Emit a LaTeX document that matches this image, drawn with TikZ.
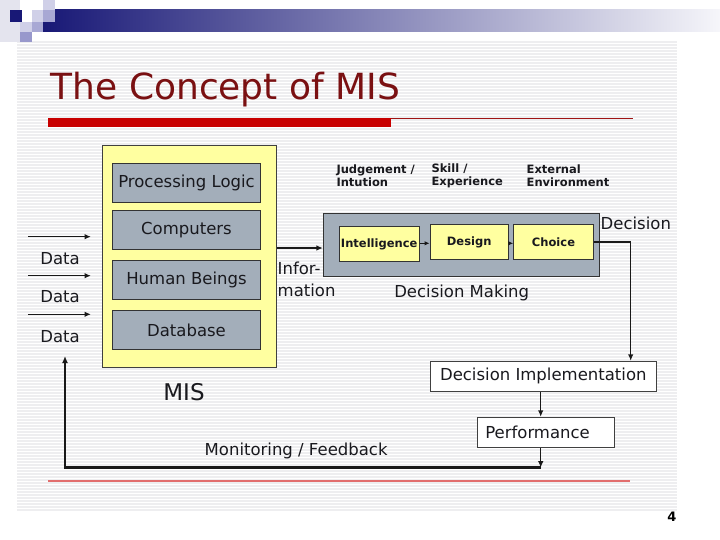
\documentclass[tikz,border=0pt]{standalone}
\usepackage{fontspec}
\setmainfont{DejaVu Sans}
\usetikzlibrary{arrows.meta}
\definecolor{navy}{RGB}{24,24,118}
\definecolor{titlered}{RGB}{122,16,18}
\definecolor{barred}{RGB}{200,0,0}
\definecolor{linered}{RGB}{160,20,20}
\definecolor{lowred}{RGB}{226,110,110}
\definecolor{stripe}{RGB}{238,238,240}
\definecolor{yel}{RGB}{255,255,160}
\definecolor{slate}{RGB}{163,174,186}
\definecolor{ink}{RGB}{25,25,30}
\definecolor{lav1}{RGB}{228,228,238}
\definecolor{lav2}{RGB}{208,208,232}
\definecolor{lav3}{RGB}{168,168,212}
\definecolor{lav4}{RGB}{152,152,204}
\tikzset{
  lbl/.style={font=\fontsize{16.5}{18}\selectfont, text=ink, inner sep=0pt},
  smallbold/.style={font=\bfseries\fontsize{11.5}{13.5}\selectfont, text=ink, inner sep=0pt, align=left},
  misbox/.style={draw=black!75, line width=0.9pt, fill=yel, inner sep=0pt},
  graybox/.style={draw=black!80, line width=0.9pt, fill=slate, inner sep=0pt, minimum width=148pt, minimum height=39pt, font=\fontsize{16.5}{18}\selectfont, text=ink},
  stepbox/.style={draw=black!80, line width=0.9pt, fill=yel, inner sep=0pt, minimum height=34.5pt, font=\bfseries\fontsize{11.5}{13}\selectfont, text=ink},
  whitebox/.style={draw=black!75, line width=0.9pt, fill=white, inner sep=0pt, minimum height=30pt, font=\fontsize{16.5}{18}\selectfont, text=ink},
  arr/.style={line width=1.5pt, draw=black!90, -{Latex[length=6.5pt,width=5.5pt]}},
  thickline/.style={line width=2.8pt, draw=black!90},
  thickarr/.style={line width=2.8pt, draw=black!90, -{Latex[length=7pt,width=6pt]}},
}
\begin{document}
\begin{tikzpicture}[x=1pt,y=-1pt]
\useasboundingbox (0,0) rectangle (720,540);
\fill[white] (0,0) rectangle (720,540);
% striped slide area
\foreach \yy in {42,45,...,510} \draw[stripe, line width=1.2pt] (17,\yy) -- (677,\yy);
% header gradient bar and squares
\shade[left color=navy, right color={rgb,255:red,246;green,246;blue,250}] (43,10) rectangle (720,32);
\fill[lav1] (0,0) rectangle (20,42);
\fill[navy] (10,10) rectangle (22,22);
\fill[white] (22,10) rectangle (32,22);
\fill[lav2] (32,10) rectangle (43,22);
\fill[lav2] (43,0) rectangle (55,10);
\fill[lav3] (43,10) rectangle (55,22);
\fill[lav2] (20,22) rectangle (32,32);
\fill[lav3] (32,22) rectangle (43,32);
\fill[lav4] (20,32) rectangle (32,42);
% title
\node[anchor=base west, inner sep=0pt, text=titlered, font=\fontsize{36}{40}\selectfont] (title) at (50.5,99.3) {The Concept of MIS};
\fill[barred] (48.3,118.3) rectangle (390.7,127.3);
\draw[linered, line width=1pt] (390.7,118.8) -- (633,118.8);
% MIS block
\node[misbox, minimum width=174.5pt, minimum height=221.7pt] (mis) at (189.5,256.8) {};
\node[graybox] (pl) at (186.5,182.8) {Processing Logic};
\node[graybox] (comp) at (186.5,230) {Computers};
\node[graybox] (hb) at (186.5,279.5) {Human Beings};
\node[graybox] (db) at (186.5,330) {Database};
\node[lbl, font=\fontsize{23}{26}\selectfont] (mislbl) at (184,392) {MIS};
% data inputs
\coordinate (d1s) at (28,236.7); \coordinate (d1e) at (91,236.7);
\coordinate (d2s) at (28,275.7); \coordinate (d2e) at (91,275.7);
\coordinate (d3s) at (28,314.3); \coordinate (d3e) at (91,314.3);
\draw[arr] (d1s) -- (d1e);
\draw[arr] (d2s) -- (d2e);
\draw[arr] (d3s) -- (d3e);
\node[lbl] (data1) at (60,258.5) {Data};
\node[lbl] (data2) at (60,297) {Data};
\node[lbl] (data3) at (60,336.5) {Data};
% decision making
\node[draw=black!80, line width=0.9pt, fill=slate, inner sep=0pt, minimum width=275.7pt, minimum height=62.7pt] (dm) at (461.2,245.3) {};
\node[stepbox, minimum width=79.7pt, minimum height=35pt] (int) at (379.2,244.2) {Intelligence};
\node[stepbox, minimum width=78.3pt] (des) at (469.2,242.2) {Design};
\node[stepbox, minimum width=79.6pt] (cho) at (553.5,242.2) {Choice};
\draw[arr, line width=1.1pt, -{Latex[length=5pt,width=4.5pt]}] (int.east |- 0,243.3) -- (des.west |- 0,243.3);
\draw[arr, line width=1.1pt, -{Latex[length=5pt,width=4.5pt]}] (des.east |- 0,243.3) -- (cho.west |- 0,243.3);
\node[smallbold, anchor=west] (jud) at (336.3,175.7) {Judgement /\\Intution};
\node[smallbold, anchor=west] (skill) at (431.3,175.7) {Skill /\\Experience};
\node[smallbold, anchor=west] (ext) at (526.5,175.7) {External\\Environment};
\node[lbl] (dmlbl) at (461.7,292.5) {Decision Making};
% information flow
\coordinate (iy) at (0,248);
\draw[arr] (mis.east |- iy) -- (dm.west |- iy);
\node[lbl, anchor=west] (inf1) at (277.5,268.3) {Infor-};
\node[lbl, anchor=west] (inf2) at (277.5,290) {mation};
% decision
\node[lbl, anchor=west] (declbl) at (600.5,223.5) {Decision};
\node[whitebox, minimum width=226.7pt] (di) at (543.3,376.3) {Decision Implementation};
\node[whitebox, minimum width=137pt, text width=121pt, inner xsep=8pt, align=left] (perf) at (545.8,432.3) {Performance};
\coordinate (dc) at (630.7,242);
\draw[thickline] (cho.east |- dc) -- (dc);
\draw[arr] (dc) -- (dc |- di.north);
\coordinate (px) at (540.7,0);
\draw[arr] (di.south -| px) -- (perf.north -| px);
\coordinate (fbr) at (540.7,467.7);
\coordinate (fbl) at (65,467.7);
\coordinate (fbt) at (65,356);
\draw[arr] (perf.south -| px) -- (fbr);
\draw[thickarr, line join=miter] (fbr) -- (fbl) -- (fbt);
\node[lbl, anchor=west] (mon) at (204.5,450.5) {Monitoring / Feedback};
% bottom line and page number
\draw[lowred, line width=1.4pt] (48,481) -- (630,481);
\node[inner sep=0pt, font=\bfseries\fontsize{13}{14}\selectfont] (pg) at (672,517) {4};
\end{tikzpicture}
\end{document}
